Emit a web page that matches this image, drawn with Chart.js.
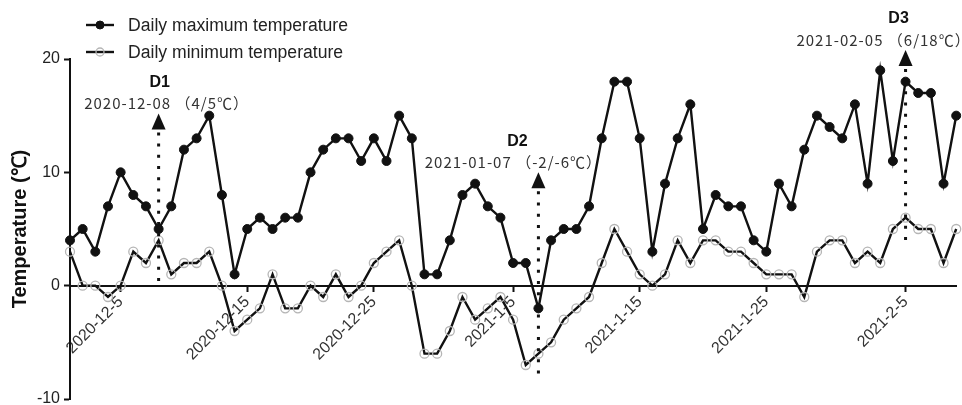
<!DOCTYPE html>
<html>
<head>
<meta charset="utf-8">
<script src="https://cdn.jsdelivr.net/npm/chart.js@4/dist/chart.umd.min.js"></script>
<style>
  html, body { margin: 0; padding: 0; background: #fff; }
  #wrap { width: 962px; height: 405px; position: relative; }
</style>
</head>
<body>
<div id="wrap"><canvas id="c" width="962" height="405"></canvas></div>
<script>
// Observation days, 1 Dec 2020 - 9 Feb 2021
const days = [
  '2020-12-1','2020-12-2','2020-12-3','2020-12-4','2020-12-5','2020-12-6','2020-12-7','2020-12-8',
  '2020-12-9','2020-12-10','2020-12-11','2020-12-12','2020-12-13','2020-12-14','2020-12-15','2020-12-16',
  '2020-12-17','2020-12-18','2020-12-19','2020-12-20','2020-12-21','2020-12-22','2020-12-23','2020-12-24',
  '2020-12-25','2020-12-26','2020-12-27','2020-12-28','2020-12-29','2020-12-30','2020-12-31',
  '2021-1-1','2021-1-2','2021-1-3','2021-1-4','2021-1-5','2021-1-6','2021-1-7','2021-1-8',
  '2021-1-9','2021-1-10','2021-1-11','2021-1-12','2021-1-13','2021-1-14','2021-1-15','2021-1-16',
  '2021-1-17','2021-1-18','2021-1-19','2021-1-20','2021-1-21','2021-1-22','2021-1-23','2021-1-24',
  '2021-1-25','2021-1-26','2021-1-27','2021-1-28','2021-1-29','2021-1-30','2021-1-31',
  '2021-2-1','2021-2-2','2021-2-3','2021-2-4','2021-2-5','2021-2-6','2021-2-7','2021-2-8','2021-2-9'
];

// Daily maximum temperature (°C)
const maxTemp = [
  4, 5, 3, 7, 10, 8, 7, 5, 7, 12, 13, 15, 8, 1, 5, 6, 5, 6, 6, 10, 12, 13, 13, 11, 13, 11, 15, 13, 1, 1, 4,
  8, 9, 7, 6, 2, 2, -2, 4, 5, 5, 7, 13, 18, 18, 13, 3, 9, 13, 16, 5, 8, 7, 7, 4, 3, 9, 7, 12, 15, 14, 13,
  16, 9, 19, 11, 18, 17, 17, 9, 15
];

// Daily minimum temperature (°C)
const minTemp = [
  3, 0, 0, -1, 0, 3, 2, 4, 1, 2, 2, 3, 0, -4, -3, -2, 1, -2, -2, 0, -1, 1, -1, 0, 2, 3, 4, 0, -6, -6, -4,
  -1, -3, -2, -1, -3, -7, -6, -5, -3, -2, -1, 2, 5, 3, 1, 0, 1, 4, 2, 4, 4, 3, 3, 2, 1, 1, 1, -1, 3, 4, 4,
  2, 3, 2, 5, 6, 5, 5, 2, 5
];

// Labelled dates on the time axis
const tickLabels = ['2020-12-5', '2020-12-15', '2020-12-25', '2021-1-5', '2021-1-15', '2021-1-25', '2021-2-5'];

// Temperature axis ticks
const yTicks = [-10, 0, 10, 20];

// Series names
const seriesNames = ['Daily maximum temperature', 'Daily minimum temperature'];

// Highlighted days: name, day, printed date, and order of the values in brackets
const eventNames  = ['D1', 'D2', 'D3'];
const eventDays   = ['2020-12-8', '2021-1-7', '2021-2-5'];
const eventDates  = ['2020-12-08', '2021-01-07', '2021-02-05'];
const eventOrders = [['min', 'max'], ['max', 'min'], ['min', 'max']];

// Placement of each marker (arrow tip / dotted line foot in °C, text shifts in px)
const eventPlacement = [
  { tip: 15.2, foot: 0,   dxDate: 8,   dxName: 1 },
  { tip: 10.0, foot: -8,  dxDate: -25, dxName: -21 },
  { tip: 20.8, foot: 3.8, dxDate: -22, dxName: -7 }
];

const INK = '#111';
const SANS = '"Liberation Sans", Arial, Helvetica, sans-serif';
const CJK = '"Noto Sans CJK SC", "Noto Sans", sans-serif';

// Legend with a line-and-marker sample for each series
const lineLegend = {
  id: 'lineLegend',
  afterDraw(chart, args, opts) {
    const ctx = chart.ctx;
    ctx.save();
    chart.data.datasets.forEach((ds, i) => {
      const y = opts.y + i * opts.rowGap;
      ctx.strokeStyle = ds.borderColor;
      ctx.lineWidth = ds.borderWidth;
      ctx.beginPath();
      ctx.moveTo(opts.x, y);
      ctx.lineTo(opts.x + opts.sample, y);
      ctx.stroke();
      ctx.beginPath();
      ctx.arc(opts.x + opts.sample / 2, y, ds.pointRadius - 0.5, 0, Math.PI * 2);
      ctx.fillStyle = ds.pointBackgroundColor;
      ctx.fill();
      ctx.lineWidth = ds.pointBorderWidth;
      ctx.strokeStyle = ds.pointBorderColor;
      ctx.stroke();
      ctx.fillStyle = opts.color;
      ctx.font = opts.font;
      ctx.textAlign = 'left';
      ctx.textBaseline = 'middle';
      ctx.fillText(ds.label, opts.x + opts.sample + opts.gap, y + 1);
    });
    ctx.restore();
  }
};

// Dotted pointer lines with arrowheads and captions for the highlighted days
const eventMarks = {
  id: 'eventMarks',
  afterDraw(chart) {
    const ctx = chart.ctx;
    const xs = chart.scales.x, ys = chart.scales.y;
    ctx.save();
    eventNames.forEach((name, i) => {
      const idx = days.indexOf(eventDays[i]);
      const p = eventPlacement[i];
      const x = xs.getPixelForValue(idx);
      const yTip = ys.getPixelForValue(p.tip);
      const yBase = yTip + 16;
      const yFoot = ys.getPixelForValue(p.foot);

      // dotted line
      ctx.strokeStyle = INK;
      ctx.lineWidth = 3;
      ctx.setLineDash([3, 8.2]);
      ctx.beginPath();
      ctx.moveTo(x, yBase + 3);
      ctx.lineTo(x, yFoot);
      ctx.stroke();
      ctx.setLineDash([]);

      // arrowhead
      ctx.fillStyle = INK;
      ctx.beginPath();
      ctx.moveTo(x, yTip);
      ctx.lineTo(x - 7, yBase);
      ctx.lineTo(x + 7, yBase);
      ctx.closePath();
      ctx.fill();

      // caption
      const vals = { min: minTemp[idx], max: maxTemp[idx] };
      const text = eventDates[i] + ' （' + eventOrders[i].map(k => vals[k]).join('/') + '℃）';
      ctx.textAlign = 'center';
      ctx.textBaseline = 'middle';
      ctx.fillStyle = '#333';
      ctx.font = '15px ' + CJK;
      if ('letterSpacing' in ctx) ctx.letterSpacing = '1px';
      ctx.fillText(text, x + p.dxDate, yTip - 10);
      if ('letterSpacing' in ctx) ctx.letterSpacing = '0px';
      ctx.fillStyle = INK;
      ctx.font = 'bold 16px ' + SANS;
      ctx.fillText(name, x + p.dxName, yTip - 31);
    });
    ctx.restore();
  }
};

new Chart(document.getElementById('c'), {
  type: 'line',
  data: {
    labels: days,
    datasets: [
      {
        label: seriesNames[0],
        data: maxTemp,
        borderColor: INK,
        borderWidth: 2.4,
        tension: 0,
        pointRadius: 4.5,
        pointBackgroundColor: INK,
        pointBorderColor: INK,
        pointBorderWidth: 1
      },
      {
        label: seriesNames[1],
        data: minTemp,
        borderColor: INK,
        borderWidth: 2.4,
        tension: 0,
        pointRadius: 4.5,
        pointBackgroundColor: 'rgba(255,255,255,0)',
        pointBorderColor: '#b5b5b5',
        pointBorderWidth: 1.3
      }
    ]
  },
  options: {
    responsive: false,
    animation: false,
    events: [],
    layout: { padding: { top: 59, bottom: 6, left: 0, right: 1 } },
    plugins: {
      legend: { display: false },
      tooltip: { enabled: false },
      lineLegend: { x: 86, y: 25, rowGap: 27, sample: 28, gap: 14, color: '#222', font: '17.6px ' + SANS }
    },
    scales: {
      x: {
        type: 'category',
        position: { y: 0 },
        offset: false,
        afterBuildTicks: s => { s.ticks = s.ticks.filter(t => tickLabels.includes(days[t.value])); },
        afterFit: s => { s.paddingLeft = 0; s.paddingRight = 0; },
        grid: { drawOnChartArea: false, drawTicks: true, tickLength: 5, tickColor: INK, tickWidth: 2 },
        border: { display: true, color: INK, width: 2 },
        ticks: {
          autoSkip: false,
          minRotation: 45,
          maxRotation: 45,
          padding: 2,
          color: '#333',
          font: { family: SANS, size: 16 }
        }
      },
      y: {
        min: yTicks[0],
        max: yTicks[yTicks.length - 1],
        position: 'left',
        afterBuildTicks: s => { s.ticks = yTicks.map(v => ({ value: v })); },
        afterFit: s => { s.width = 70; s.paddingTop = 0; s.paddingBottom = 0; },
        grid: { drawOnChartArea: false, drawTicks: true, tickLength: 6, tickColor: INK, tickWidth: 2 },
        border: { display: true, color: INK, width: 2 },
        ticks: { padding: 4, color: '#222', font: { family: SANS, size: 16 } },
        title: {
          display: true,
          text: 'Temperature (℃)',
          color: INK,
          font: { family: SANS, size: 20, weight: 'bold' },
          padding: { top: 8, bottom: 0 }
        }
      }
    }
  },
  plugins: [lineLegend, eventMarks]
});
</script>
</body>
</html>
